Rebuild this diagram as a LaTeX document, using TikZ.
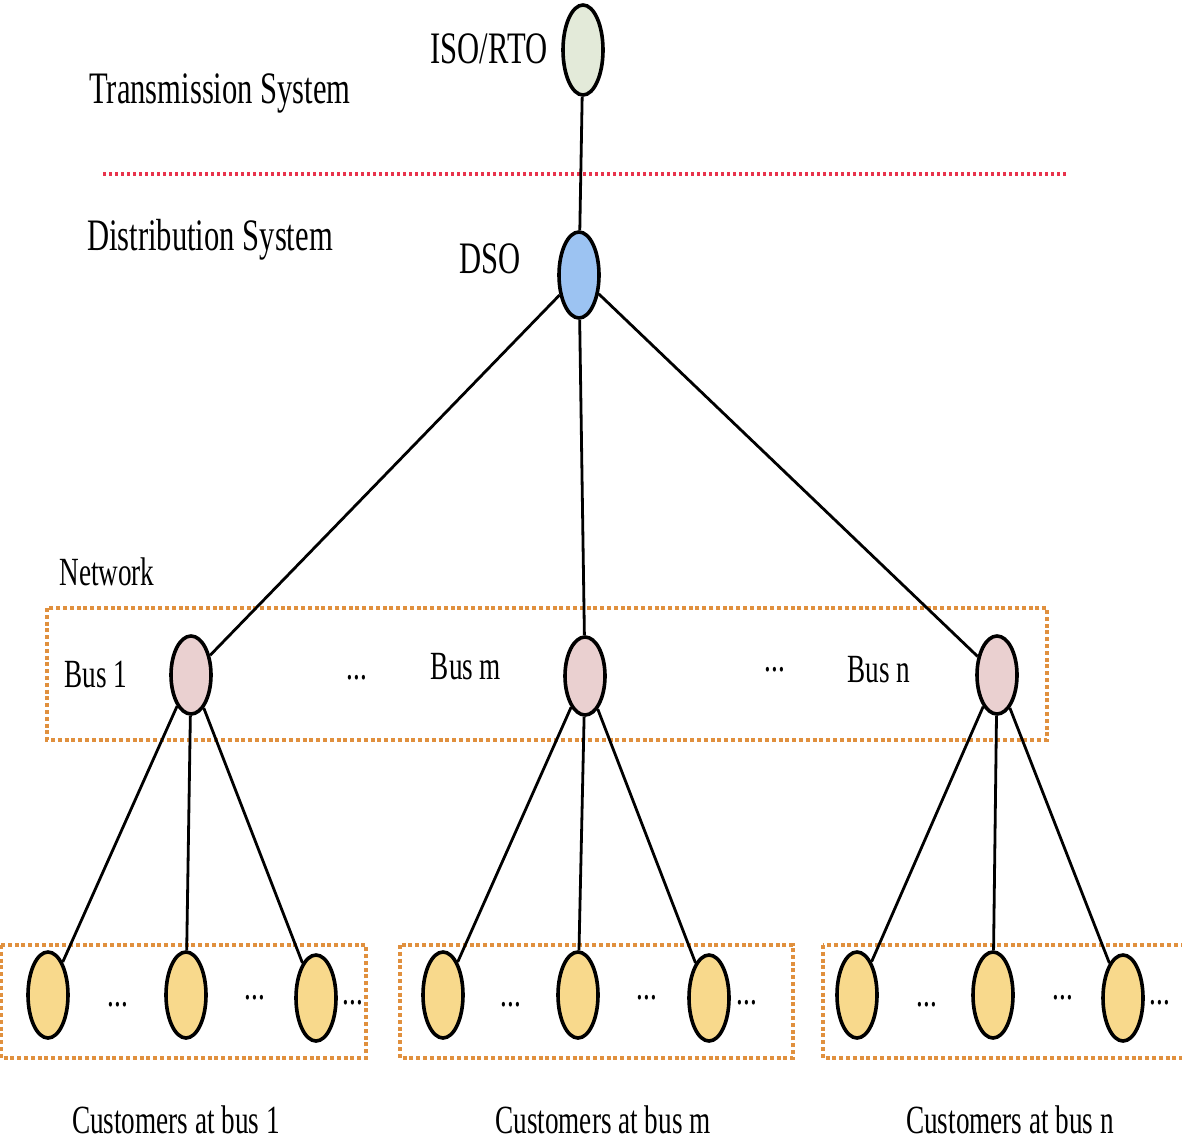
\documentclass[tikz,border=0pt]{standalone}
\usepackage{fontspec}
\setmainfont[FakeStretch=0.68]{Liberation Serif}
\usetikzlibrary{shapes.geometric}

\definecolor{isofill}{HTML}{E3EAD9}
\definecolor{dsofill}{HTML}{9CC3F2}
\definecolor{busfill}{HTML}{EAD0D0}
\definecolor{custfill}{HTML}{F8D98C}
\definecolor{borderred}{HTML}{E8334C}
\definecolor{boxorange}{HTML}{E0903E}

\tikzset{
    agent/.style={ellipse, draw=black, line width=1.8pt, inner sep=0pt, minimum width=20pt},
    isonode/.style={agent, fill=isofill, minimum height=45pt},
    dsonode/.style={agent, fill=dsofill, minimum height=43pt},
    busnode/.style={agent, fill=busfill, minimum height=39pt},
    custnode/.style={agent, fill=custfill, minimum height=43pt},
    biglabel/.style={anchor=base, inner sep=0pt, font=\fontsize{22.5}{27}\selectfont},
    smalllabel/.style={anchor=base, inner sep=0pt, font=\fontsize{20}{24}\selectfont},
    dotlabel/.style={inner sep=0pt, font=\fontsize{20}{24}\selectfont},
    groupbox/.style={draw=boxorange, line width=1.6pt, dash pattern=on 2pt off 1.4pt}
}

\begin{document}
\begin{tikzpicture}[x=50pt, y=-50pt, line width=1.4pt]
    \clip (0,0) rectangle (11.82,11.41);
    \fill[white] (0,0) rectangle (11.82,11.41);

    \node[biglabel] (transtext) at (2.20, 1.03) {Transmission System};
    \node[biglabel] (disttext) at (2.10, 2.50) {Distribution System};
    \node[biglabel] (isotext) at (4.89, 0.63) {ISO/RTO};
    \node[biglabel] (dsotext) at (4.90, 2.73) {DSO};
    \node[smalllabel] (nettext) at (1.07, 5.85) {Network};

    \coordinate (sepleft) at (1.03, 1.74);
    \coordinate (sepright) at (10.68, 1.74);
    \draw[borderred, line width=1.9pt, dash pattern=on 1.4pt off 1.6pt] (sepleft) -- (sepright);

    \draw[groupbox] (0.47, 6.08) rectangle (10.47, 7.40);
    \draw[groupbox] (0.01, 9.45) rectangle (3.66, 10.58);
    \draw[groupbox] (4.00, 9.45) rectangle (7.93, 10.58);
    \draw[groupbox] (8.23, 9.45) rectangle (11.90, 10.58);

    \node[isonode] (iso) at (5.83, 0.50) {};
    \node[dsonode] (dso) at (5.79, 2.75) {};
    \node[busnode] (bus1) at (1.91, 6.75) {};
    \node[busnode] (busm) at (5.85, 6.76) {};
    \node[busnode] (busn) at (9.97, 6.75) {};

    \node[smalllabel] (bus1text) at (0.96, 6.87) {Bus 1};
    \node[smalllabel] (busmtext) at (4.66, 6.79) {Bus m};
    \node[smalllabel] (busntext) at (8.79, 6.82) {Bus n};
    \node[dotlabel] (busdotsa) at (3.57, 6.78) {...};
    \node[dotlabel] (busdotsb) at (7.75, 6.70) {...};

    \foreach \g/\xa/\xb/\xc in {1/0.48/1.86/3.16, m/4.43/5.78/7.09, n/8.57/9.93/11.23} {
        \node[custnode] (c\g1) at (\xa, 9.95) {};
        \node[custnode] (c\g2) at (\xb, 9.95) {};
        \node[custnode] (c\g3) at (\xc, 9.98) {};
        \draw (bus\g) -- (c\g1);
        \draw (bus\g) -- (c\g2);
        \draw (bus\g) -- (c\g3);
    }

    \foreach \g/\xa/\xb/\xc in {1/1.18/2.55/3.53, m/5.11/6.47/7.47, n/9.27/10.63/11.60} {
        \node[dotlabel] (d\g1) at (\xa, 10.05) {...};
        \node[dotlabel] (d\g2) at (\xb, 9.98) {...};
        \node[dotlabel] (d\g3) at (\xc, 10.03) {...};
    }

    \node[smalllabel] (cust1text) at (1.76, 11.33) {Customers at bus 1};
    \node[smalllabel] (custmtext) at (6.03, 11.33) {Customers at bus m};
    \node[smalllabel] (custntext) at (10.10, 11.33) {Customers at bus n};

    \draw (iso) -- (dso);
    \draw (dso) -- (bus1);
    \draw (dso) -- (busm);
    \draw (dso) -- (busn);
\end{tikzpicture}
\end{document}
